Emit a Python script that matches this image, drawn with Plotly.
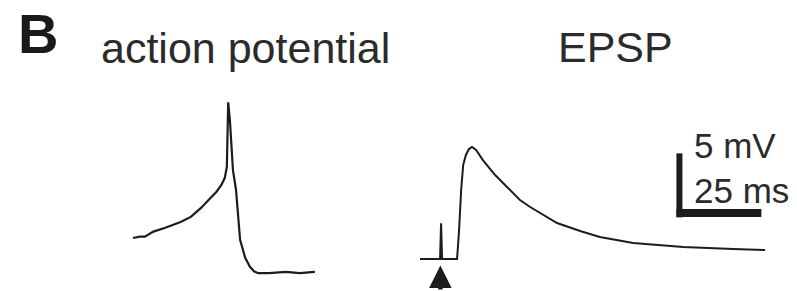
import plotly.graph_objects as go

# ---- data (time in ms, voltage in mV relative to baseline) ----
ap_t = [0, 2, 3.5, 6, 9.5, 14, 17, 20, 22.5, 24.5, 26, 27, 27.6, 27.8, 28, 28.5,
        29.4, 30.3, 31.5, 33, 34.4, 35.6, 36.8, 40, 45, 49, 53.5]
ap_v = [0, 0.1, 0.1, 0.5, 0.8, 1.25, 1.65, 2.35, 3.05, 3.6, 4.15, 4.7, 5.55, 9.0,
        10.6, 9.2, 5.3, 3.75, -0.15, -1.55, -2.25, -2.6, -2.75, -2.75, -2.65, -2.75, -2.65]

epsp_t = [0, 5.3, 5.9, 6.2, 6.5, 10.9, 11.5, 12.1, 12.7, 13.5, 14.4, 15.3, 16.5,
          18.5, 22.1, 25.6, 29.4, 32.4, 40.3, 47.1, 52.9, 62.7, 77.4, 92.1, 101.5]
epsp_v = [0, 0, 0, 2.8, 0, 0, 2.27, 5.39, 7.34, 8.13, 8.59, 8.75, 8.52, 7.73, 6.56,
          5.63, 4.61, 4.06, 2.81, 2.19, 1.72, 1.25, 0.94, 0.78, 0.70]

stim_t = 6.0          # stimulus time (ms) in EPSP trace
scale_mv = 5          # vertical scale bar (mV)
scale_ms = 25         # horizontal scale bar (ms)

panel_label = "B"
titles = ["action potential", "EPSP"]
scale_labels = [f"{scale_mv} mV", f"{scale_ms} ms"]

# ---- layout geometry ----
W, H = 797, 291
PX_PER_MS = 3.4
PX_PER_MV = 12.8
ap_origin = (133, 238)     # pixel location of AP t=0, v=0
epsp_origin = (420, 259)   # pixel location of EPSP t=0, v=0

def xr(o):
    return [-o[0] / PX_PER_MS, (W - o[0]) / PX_PER_MS]

def yr(o):
    return [(o[1] - H) / PX_PER_MV, o[1] / PX_PER_MV]

ink = "#1c1c1c"
txt = "#2b2b2b"
font = "Liberation Sans, Arial, sans-serif"

fig = go.Figure()
fig.add_trace(go.Scatter(x=ap_t, y=ap_v, mode="lines", xaxis="x", yaxis="y",
                         line=dict(color=ink, width=2.2), showlegend=False))
fig.add_trace(go.Scatter(x=epsp_t, y=epsp_v, mode="lines", xaxis="x2", yaxis="y2",
                         line=dict(color=ink, width=2.0), showlegend=False))

# scale bar (EPSP coordinates)
sb_t0, sb_v0 = 76.3, 3.6
fig.add_shape(type="line", xref="x2", yref="y2", x0=sb_t0, x1=sb_t0,
              y0=sb_v0 - 0.35, y1=sb_v0 + scale_mv - 0.35,
              line=dict(color=ink, width=6))
fig.add_shape(type="line", xref="x2", yref="y2", x0=sb_t0 - 0.9, x1=sb_t0 - 0.9 + scale_ms,
              y0=sb_v0, y1=sb_v0, line=dict(color=ink, width=8))

ann = []
def px(x, y):
    return x / W, 1 - y / H

x, y = px(16, 33)
ann.append(dict(text=f"<b>{panel_label}</b>", x=x, y=y, xanchor="left", yanchor="middle",
                font=dict(size=56, color="#1a1a1a", family=font)))
x, y = px(99, 48)
ann.append(dict(text=titles[0], x=x, y=y, xanchor="left", yanchor="middle",
                font=dict(size=43, color=txt, family=font)))
x, y = px(556, 47)
ann.append(dict(text=titles[1], x=x, y=y, xanchor="left", yanchor="middle",
                font=dict(size=43, color=txt, family=font)))
x, y = px(692, 145)
ann.append(dict(text=scale_labels[0], x=x, y=y, xanchor="left", yanchor="middle",
                font=dict(size=35, color=txt, family=font)))
x, y = px(692, 190)
ann.append(dict(text=scale_labels[1], x=x, y=y, xanchor="left", yanchor="middle",
                font=dict(size=35, color=txt, family=font)))
for a in ann:
    a.update(xref="paper", yref="paper", showarrow=False)

# stimulus arrow
ann.append(dict(x=stim_t, y=-0.5, xref="x2", yref="y2", ax=0, ay=34, showarrow=True,
                arrowhead=2, arrowsize=1.0, arrowwidth=4.5, arrowcolor=ink, text=""))

ax_common = dict(visible=False, showgrid=False, zeroline=False, fixedrange=True)
fig.update_layout(
    width=W, height=H, margin=dict(l=0, r=0, t=0, b=0),
    paper_bgcolor="white", plot_bgcolor="white",
    xaxis=dict(range=xr(ap_origin), domain=[0, 1], **ax_common),
    yaxis=dict(range=yr(ap_origin), domain=[0, 1], **ax_common),
    xaxis2=dict(range=xr(epsp_origin), domain=[0, 1], overlaying="x", anchor="y2", **ax_common),
    yaxis2=dict(range=yr(epsp_origin), domain=[0, 1], overlaying="y", anchor="x2", **ax_common),
    annotations=ann,
)

fig.write_html("out.html", config={"displayModeBar": False},
               post_script="document.body.style.margin='0';document.body.style.overflow='hidden';")
